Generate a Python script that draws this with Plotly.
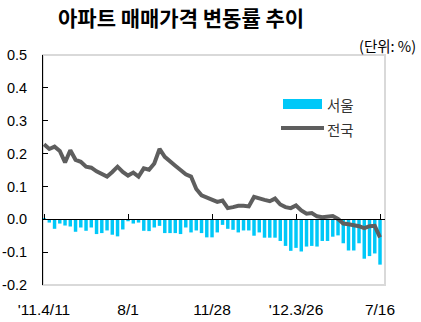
import pandas as pd
import plotly.graph_objects as go

# ---- data ----
all_weeks = pd.date_range("2011-04-11", "2012-07-16", freq="7D")
skipped_weeks = ["2011-09-12", "2012-01-23"]  # holiday weeks without survey
weeks = [d.strftime("%Y-%m-%d") for d in all_weeks if d.strftime("%Y-%m-%d") not in skipped_weeks]

tick_dates = ["2011-04-11", "2011-08-01", "2011-11-28", "2012-03-26", "2012-07-16"]
tick_labels = ["'11.4/11", "8/1", "11/28", "'12.3/26", "7/16"]

seoul = [0.003, -0.010, -0.029, -0.013, -0.019, -0.022, -0.038, -0.025, -0.035, -0.025,
         -0.045, -0.042, -0.034, -0.047, -0.052, -0.031, -0.006, -0.013, -0.010, -0.035,
         -0.036, -0.025, -0.020, -0.042, -0.042, -0.042, -0.045, -0.025, -0.040, -0.034,
         -0.042, -0.055, -0.055, -0.040, -0.017, -0.029, -0.032, -0.040, -0.034, -0.034,
         -0.050, -0.040, -0.056, -0.056, -0.056, -0.066, -0.081, -0.096, -0.087, -0.098,
         -0.083, -0.081, -0.083, -0.066, -0.066, -0.053, -0.049, -0.073, -0.095, -0.095,
         -0.073, -0.120, -0.112, -0.104, -0.138]

national = [0.228, 0.214, 0.221, 0.208, 0.173, 0.210, 0.181, 0.175, 0.160, 0.157,
            0.146, 0.137, 0.130, 0.144, 0.160, 0.144, 0.133, 0.142, 0.130, 0.155,
            0.151, 0.170, 0.214, 0.190, 0.178, 0.163, 0.150, 0.137, 0.130, 0.092,
            0.073, 0.067, 0.060, 0.053, 0.057, 0.034, 0.037, 0.041, 0.041, 0.039,
            0.068, 0.065, 0.059, 0.055, 0.063, 0.045, 0.037, 0.034, 0.042, 0.027,
            0.017, 0.019, 0.009, 0.006, 0.008, 0.010, 0.001, -0.013, -0.015, -0.017,
            -0.021, -0.027, -0.021, -0.020, -0.055]

y_ticks = [-0.2, -0.1, 0.0, 0.1, 0.2, 0.3, 0.4, 0.5]
y_ticktext = ["-0.2", "-0.1", "0.0", "0.1", "0.2", "0.3", "0.4", "0.5"]

series_names = ["서울", "전국"]
title_text = "아파트 매매가격 변동률 추이"
unit_text = "(단위: %)"

# ---- figure ----
W, H = 421, 322
L, R, T, B = 43, 385, 55, 285
pw, ph = R - L, B - T

def px_x(x):
    return (x - L) / pw

def px_y(y):
    return (B - y) / ph

xi = list(range(len(weeks)))
tickpos = [weeks.index(d) for d in tick_dates]

bar_color = "#00C8F8"
line_color = "#5E5E5E"
lat = "Arial, Liberation Sans, sans-serif"
kr = "Noto Sans CJK KR, sans-serif"

fig = go.Figure()
fig.add_bar(x=xi, y=seoul, name=series_names[0], marker=dict(color=bar_color, line_width=0),
            width=0.66, xaxis="x", yaxis="y", showlegend=False)
fig.add_scatter(x=xi, y=national, name=series_names[1], mode="lines",
                line=dict(color=line_color, width=4), xaxis="x2", yaxis="y", showlegend=False)

xrange = [-0.2, len(weeks) - 1 + 0.95]
ymin, ymax = -0.2, 0.5

fig.update_layout(
    width=W, height=H,
    margin=dict(l=L, r=W - R, t=T, b=H - B, pad=0, autoexpand=False),
    paper_bgcolor="white", plot_bgcolor="white",
    xaxis=dict(range=xrange, tickmode="array", tickvals=tickpos, ticktext=tick_labels,
               showline=False, ticks="", showgrid=False, zeroline=False, automargin=False,
               tickfont=dict(family=lat, size=15.5, color="#000"), ticklabelstandoff=13),
    xaxis2=dict(range=xrange, overlaying="x", anchor="free", position=(0 - ymin) / (ymax - ymin),
                side="bottom", tickmode="array", tickvals=tickpos, ticks="inside", ticklen=5,
                tickcolor="#000", tickwidth=1, showline=True, linecolor="#000", linewidth=1,
                showticklabels=False, showgrid=False, zeroline=False, automargin=False),
    yaxis=dict(range=[ymin, ymax], tickmode="array", tickvals=y_ticks, ticktext=y_ticktext,
               ticks="inside", ticklen=5, tickcolor="#000", showline=True, linecolor="#000",
               linewidth=1, showgrid=False, zeroline=False, automargin=False,
               tickfont=dict(family=lat, size=14.5, color="#000"), ticklabelstandoff=12),
    bargap=0.35,
    shapes=[
        dict(type="rect", xref="paper", yref="paper", x0=0, x1=1, y0=0, y1=1,
             line=dict(color="#D9D9D9", width=2), layer="below"),
        # legend swatches
        dict(type="rect", xref="paper", yref="paper", x0=px_x(283), x1=px_x(322),
             y0=px_y(109), y1=px_y(99), fillcolor=bar_color, line_width=0),
        dict(type="line", xref="paper", yref="paper", x0=px_x(281), x1=px_x(324),
             y0=px_y(128), y1=px_y(128), line=dict(color=line_color, width=4)),
    ],
    annotations=[
        dict(text=f"<b>{title_text}</b>", xref="paper", yref="paper", x=px_x(181), y=px_y(17),
             xanchor="center", yanchor="middle", showarrow=False,
             font=dict(family=kr, size=21, color="#000")),
        dict(text=unit_text, xref="paper", yref="paper", x=px_x(418), y=px_y(45),
             xanchor="right", yanchor="middle", showarrow=False,
             font=dict(family=kr, size=14.5, color="#000")),
        dict(text=series_names[0], xref="paper", yref="paper", x=px_x(325), y=px_y(104),
             xanchor="left", yanchor="middle", showarrow=False,
             font=dict(family=kr, size=14.5, color="#333")),
        dict(text=series_names[1], xref="paper", yref="paper", x=px_x(325), y=px_y(129),
             xanchor="left", yanchor="middle", showarrow=False,
             font=dict(family=kr, size=14.5, color="#333")),
    ],
)

fig.write_html("out.html")
